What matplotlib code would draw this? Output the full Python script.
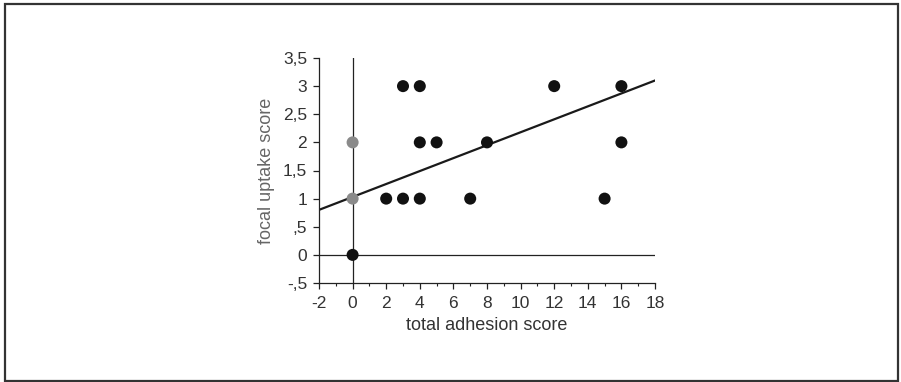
import matplotlib.pyplot as plt
from matplotlib.patches import Rectangle
from matplotlib.ticker import MultipleLocator

plt.rcParams['font.family'] = ['Liberation Sans', 'DejaVu Sans']
plt.rcParams['axes.unicode_minus'] = False

# scores
adhesion = [0, 0, 0, 2, 3, 4, 7, 15, 3, 4, 12, 16, 4, 5, 8, 16]
uptake = [2, 1, 0, 1, 1, 1, 1, 1, 3, 3, 3, 3, 2, 2, 2, 2]
point_colors = ['#8a8a8a', '#8a8a8a', '#111111'] + ['#111111'] * 13

# regression line as drawn
slope = 0.115
intercept = 1.03
line_x = [-2, 18]

x_ticks = [-2, 0, 2, 4, 6, 8, 10, 12, 14, 16, 18]
y_ticks = [-0.5, 0, 0.5, 1, 1.5, 2, 2.5, 3, 3.5]
y_labels = ['-,5', '0', ',5', '1', '1,5', '2', '2,5', '3', '3,5']

fig = plt.figure(figsize=(9.01, 3.82), dpi=100)
fig.patches.append(Rectangle((5 / 901, 1.5 / 382), 893 / 901, 377 / 382,
                             transform=fig.transFigure, fill=False,
                             edgecolor='#333333', linewidth=1.6))

ax = fig.add_axes([319 / 901, 1 - 283 / 382, 336 / 901, 225 / 382])
ax.set_xlim(-2, 18)
ax.set_ylim(-0.5, 3.5)

ax.axhline(0, color='#222222', lw=0.9, zorder=1)
ax.axvline(0, color='#222222', lw=0.9, zorder=1)

ax.plot(line_x, [slope * x + intercept for x in line_x], color='#1a1a1a', lw=1.6, zorder=2)
ax.scatter(adhesion, uptake, s=75, c=point_colors, edgecolors='none', zorder=3)

for side in ['top', 'right']:
    ax.spines[side].set_visible(False)
for side in ['left', 'bottom']:
    ax.spines[side].set_color('#222222')
    ax.spines[side].set_linewidth(0.9)

ax.set_xticks(x_ticks)
ax.xaxis.set_minor_locator(MultipleLocator(1))
ax.set_yticks(y_ticks)
ax.set_yticklabels(y_labels)
ax.tick_params(which='major', direction='out', length=4.5, width=0.9, color='#222222',
               labelsize=12.5, labelcolor='#333333')
ax.tick_params(axis='x', which='major', pad=5)
ax.tick_params(axis='y', which='major', pad=4)
ax.tick_params(which='minor', direction='out', length=2.5, width=0.8, color='#222222')

ax.set_xlabel('total adhesion score', fontsize=13, color='#333333', labelpad=4)
ax.set_ylabel('focal uptake score', fontsize=13, color='#666666', labelpad=6)

fig.savefig('out.png', dpi=100)
